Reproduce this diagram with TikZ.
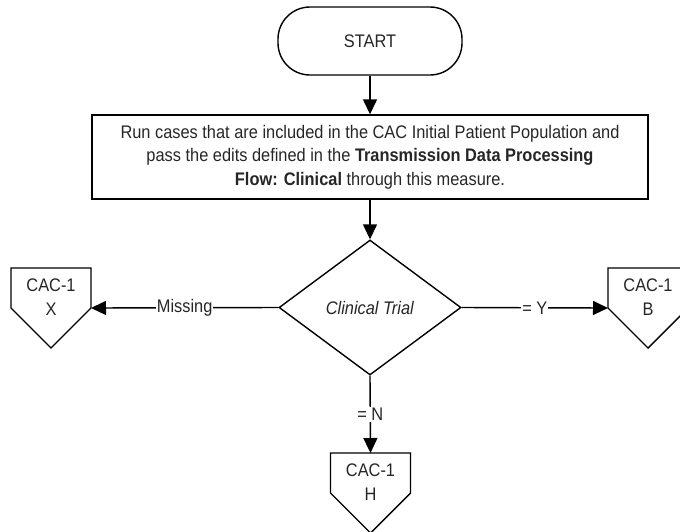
\documentclass[tikz,border=0pt]{standalone}
\usepackage{fontspec}
\setmainfont{Liberation Sans}[FakeStretch=0.9]
\usetikzlibrary{shapes.geometric,arrows.meta}
\newcommand\mypent[4]{%
  \draw (#2-40,#3) -- (#2+40,#3) -- (#2+40,#3+40) -- (#2,#3+80) -- (#2-40,#3+40) -- cycle;
  \coordinate (#1-top) at (#2,#3);
  \coordinate (#1-l) at (#2-40,#3+40);
  \coordinate (#1-r) at (#2+40,#3+40);
  \node[pentxt] (#1) at (#2,#3+29) {#4};
}
\begin{document}
\begin{tikzpicture}[x=1pt,y=-1pt,
  line width=1.4pt,
  every node/.style={font=\fontsize{18.2}{23.5}\selectfont, text=black!85},
  startbox/.style={draw, rectangle, rounded corners=32pt, minimum width=184pt, minimum height=68pt, inner sep=0pt},
  procbox/.style={draw, rectangle, minimum width=556pt, minimum height=84pt, align=center, inner sep=0pt},
  decbox/.style={draw, diamond, minimum width=182pt, minimum height=135pt, aspect=1.35, inner sep=0pt},
  pentxt/.style={align=center, inner sep=0pt},
  lbl/.style={fill=white, inner sep=1pt},
  arr/.style={-{Triangle[length=15pt,width=14pt]}}
]
\useasboundingbox (0,0) rectangle (680,531);
\clip (0,0) rectangle (680,531);

\node[startbox] (start) at (370,41) {START};
\node[procbox] (proc) at (370,157) {Run cases that are included in the CAC Initial Patient Population and\\pass the edits defined in the \textbf{Transmission Data Processing}\\\textbf{Flow: Clinical} through this measure.};
\node[decbox] (dec) at (370,307.5) {\textit{Clinical Trial}};
\mypent{x}{51}{268}{CAC-1\\X}
\mypent{b}{648}{268}{CAC-1\\B}
\mypent{h}{370.5}{453}{CAC-1\\H}

\draw[arr] (start) -- (proc);
\draw[arr] (proc) -- (dec);
\draw[arr] (dec.west) -- node[lbl]{Missing} (x-r);
\draw[arr] (dec.east) -- node[lbl]{= Y} (b-l);
\draw[arr] (dec.south) -- node[lbl]{= N} (h-top);
\end{tikzpicture}
\end{document}
